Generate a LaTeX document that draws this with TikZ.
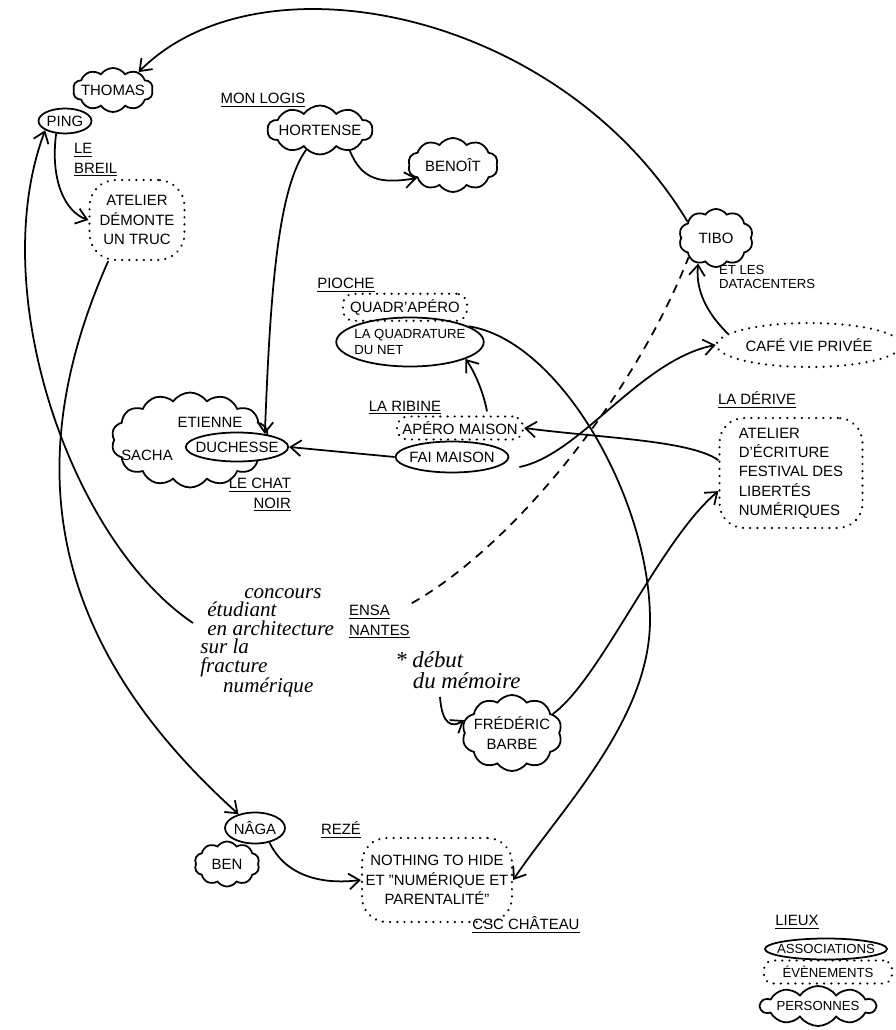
\documentclass[tikz,border=0pt]{standalone}
\usepackage{fontspec}
\setmainfont{Liberation Sans}
\newfontfamily\manuscrit{Liberation Serif}
\usepackage{tikz}
\usetikzlibrary{shapes.geometric, shapes.symbols, arrows.meta, positioning, calc}
\tikzstyle{asso} = [ellipse, draw, line width=1pt, fill=white, inner xsep=-3pt, inner ysep=0pt]
\tikzstyle{evenement} = [draw, line width=1.3pt, line cap=round, dash pattern=on 0.1pt off 4pt, rounded corners=8pt, inner sep=1pt]
\tikzstyle{personne} = [cloud, draw, line width=1pt, cloud puffs=10, cloud puff arc=110, cloud ignores aspect, inner xsep=-4pt, inner ysep=0pt]
\tikzstyle{lieu} = [inner sep=1pt]
\tikzstyle{manus} = [font=\manuscrit\itshape\fontsize{12}{10.5}\selectfont, align=left, inner sep=0pt]
\tikzstyle{legende} = [font=\fontsize{7.5}{9}\selectfont]
\tikzstyle{arrow} = [line width=1pt, -{Straight Barb[length=6pt,width=9pt]}]
\tikzstyle{pointille} = [line width=1pt, dash pattern=on 5pt off 4pt]

\begin{document}
\begin{tikzpicture}[x=0.02cm, y=-0.02cm, font=\fontsize{8.5}{11}\selectfont]
\useasboundingbox (0,0) rectangle (895,1030);

% le breil
\node[personne, minimum width=1.6cm, minimum height=0.88cm] (thomas) at (113,90) {THOMAS};
\node[asso, minimum width=1.06cm, minimum height=0.5cm] (ping) at (65,121) {PING};
\node[lieu, anchor=west, align=left] (breil) at (72,160) {\underline{LE}\\\underline{BREIL}};
\node[evenement, rounded corners=15pt, minimum width=1.9cm, minimum height=1.6cm, align=center] (atelier) at (137,220) {ATELIER\\DÉMONTE\\UN TRUC};

% mon logis
\node[lieu] (logis) at (263,100) {\underline{MON LOGIS}};
\node[personne, minimum width=2.1cm, minimum height=0.98cm] (hortense) at (320,130) {HORTENSE};
\node[personne, minimum width=1.8cm, minimum height=1.08cm] (benoit) at (453,165) {BENOÎT};

% tibo
\node[personne, minimum width=1.48cm, minimum height=1.16cm] (tibo) at (716,238) {TIBO};
\node[lieu, anchor=west, align=left, font=\fontsize{7.5}{8}\selectfont] (datac) at (717,277) {ET LES\\DATACENTERS};
\node[evenement, ellipse, minimum width=3.24cm, minimum height=0.88cm] (cafe) at (809,345) {CAFÉ VIE PRIVÉE};

% la derive
\node[lieu] (derive) at (757,400) {\underline{LA DÉRIVE}};
\node[evenement, rounded corners=14pt, minimum width=2.86cm, minimum height=2.2cm, align=left] (ecriture) at (791,473) {ATELIER\\D'ÉCRITURE\\FESTIVAL DES\\LIBERTÉS\\NUMÉRIQUES};

% pioche
\node[lieu] (pioche) at (346,285) {\underline{PIOCHE}};
\node[asso, minimum width=2.95cm, minimum height=0.98cm, align=left, font=\fontsize{7.5}{9}\selectfont] (quadrature) at (410,342) {LA QUADRATURE\\DU NET};
\node[evenement, rounded corners=6pt, minimum width=2.48cm, minimum height=0.54cm, above=-3pt of quadrature, xshift=-0.1cm] (quadrapero) {QUADR'APÉRO};

% la ribine
\node[lieu] (ribine) at (405,408) {\underline{LA RIBINE}};
\node[asso, minimum width=2.26cm, minimum height=0.62cm] (faimaison) at (452,457) {FAI MAISON};
\node[evenement, rounded corners=6pt, minimum width=2.52cm, minimum height=0.46cm, above=0pt of faimaison, xshift=0.16cm] (aperomaison) {APÉRO MAISON};

% le chat noir
\node[personne, cloud puffs=14, minimum width=3.14cm, minimum height=1.9cm] (etsa) at (190,440) {};
\node (etienne) at (210,422) {ETIENNE};
\node (sacha) at (147,455) {SACHA};
\node[asso, minimum width=1.98cm, minimum height=0.58cm] (duchesse) at (237,447) {DUCHESSE};
\node[lieu, anchor=east, align=right] (chatnoir) at (293,495) {\underline{LE CHAT}\\\underline{NOIR}};

% ensa
\node[manus, anchor=north west] (concours) at (200,588) {\hspace*{25pt}concours\\\hspace*{4pt}étudiant\\\hspace*{4pt}en architecture\\sur la\\fracture\\\hspace*{13pt}numérique};
\node[lieu, anchor=west, align=left] (ensa) at (347,622) {\underline{ENSA}\\\underline{NANTES}};
\node[manus, anchor=north west, font=\manuscrit\itshape\fontsize{13}{12}\selectfont] (debut) at (395,651) {* début\\\hspace*{10pt}du mémoire};
\node[personne, minimum width=2.0cm, minimum height=1.52cm, align=center] (frederic) at (512,733) {FRÉDÉRIC\\BARBE};

% reze
\node[personne, minimum width=1.3cm, minimum height=0.9cm] (ben) at (227,864) {BEN};
\node[asso, minimum width=1.2cm, minimum height=0.62cm] (naga) at (255,828) {NÂGA};
\node[lieu] (reze) at (341,830) {\underline{REZÉ}};
\node[evenement, rounded corners=14pt, minimum width=3.0cm, minimum height=1.68cm, align=center] (nothing) at (437,880) {NOTHING TO HIDE\\ET "NUMÉRIQUE ET\\PARENTALITÉ"};
\node[lieu] (chateau) at (526,925) {\underline{CSC CHÂTEAU}};

% legende
\node[lieu] (lieux) at (797,922) {\underline{LIEUX}};
\node[asso, legende, inner xsep=-8pt, minimum width=2.44cm, minimum height=0.42cm] (legasso) at (826,949) {ASSOCIATIONS};
\node[evenement, legende, rounded corners=5pt, minimum width=2.56cm, minimum height=0.46cm] (legevent) at (828,972) {ÉVÈNEMENTS};
\node[personne, legende, minimum width=2.3cm, minimum height=0.8cm] (legperso) at (818,1006) {PERSONNES};

% liens
\draw[arrow] (tibo.150) .. controls (560,10) and (260,-50) .. (thomas.35);
\draw[arrow] (ping.235) .. controls (50,180) and (65,212) .. (atelier.west);
\draw[arrow] (atelier.235) .. controls (20,460) and (45,640) .. (naga.140);
\draw[arrow] ($(concours.north west)+(-7,35)$) .. controls (70,540) and (-15,290) .. (ping.205);
\draw[arrow] (hortense.-35) .. controls (362,180) and (380,184) .. (benoit.200);
\draw[arrow] (hortense.235) .. controls (277,190) and (270,300) .. (duchesse.25);
\draw[arrow] (faimaison.west) -- (duchesse.east);
\draw[arrow] ($(aperomaison.north)+(27,-4)$) .. controls (482,385) and (470,365) .. (quadrature.-17);
\draw[arrow] ($(faimaison.east)+(10,10)$) .. controls (580,455) and (640,360) .. (cafe.west);
\draw[arrow] (ecriture.170) .. controls (690,440) and (600,438) .. (aperomaison.east);
\draw[arrow] (cafe.172) .. controls (712,318) and (695,295) .. (tibo.235);
\draw[pointille] (ensa.north east) .. controls (510,548) and (632,400) .. (tibo.215);
\draw[arrow] (frederic.25) .. controls (600,680) and (660,540) .. (ecriture.194);
\draw[arrow] ($(debut.south west)+(45,8)$) .. controls (442,725) and (452,728) .. (frederic.165);
\draw[arrow] (naga.-45) .. controls (285,875) and (320,885) .. (nothing.west);
\draw[arrow] (quadrature.15) .. controls (560,340) and (650,500) .. (650,620) .. controls (650,720) and (560,810) .. (nothing.east);
\end{tikzpicture}
\end{document}
